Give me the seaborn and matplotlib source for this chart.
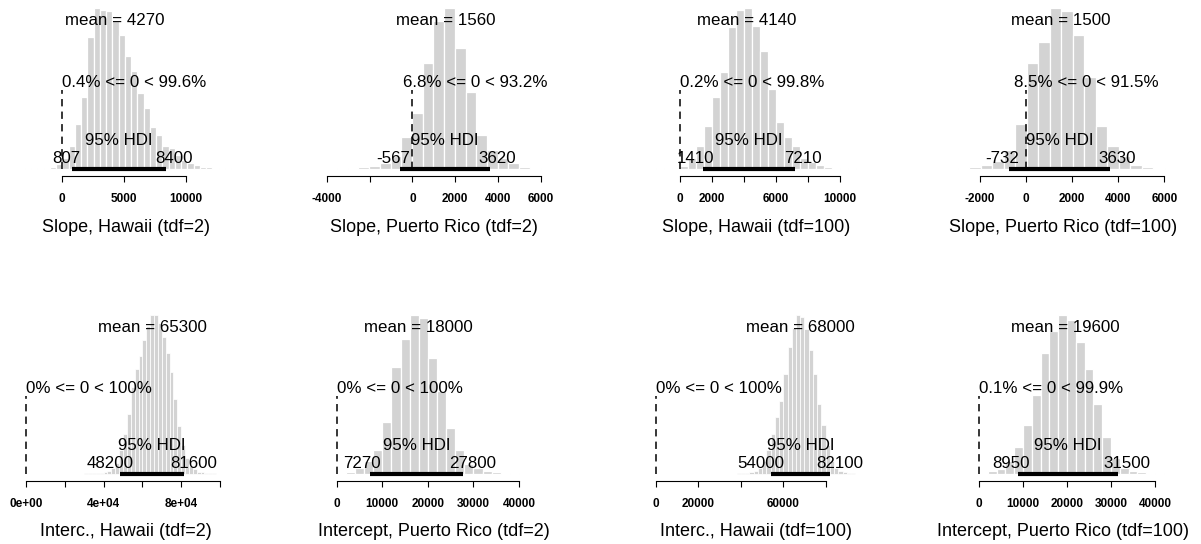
import numpy as np
import pandas as pd
import matplotlib
matplotlib.use("Agg")
import matplotlib.pyplot as plt
import seaborn as sns
from matplotlib.transforms import ScaledTranslation

# ---------------- data ----------------
titles = ["Slope, Hawaii (tdf=2)", "Slope, Puerto Rico (tdf=2)",
          "Slope, Hawaii (tdf=100)", "Slope, Puerto Rico (tdf=100)",
          "Interc., Hawaii (tdf=2)", "Intercept, Puerto Rico (tdf=2)",
          "Interc., Hawaii (tdf=100)", "Intercept, Puerto Rico (tdf=100)"]
means = ["4270", "1560", "4140", "1500", "65300", "18000", "68000", "19600"]
mean_vals = [4270, 1560, 4140, 1500, 65300, 18000, 68000, 19600]
hdi_low = [807, -567, 1410, -732, 48200, 7270, 54000, 8950]
hdi_high = [8400, 3620, 7210, 3630, 81600, 27800, 82100, 31500]
pct_below = [0.4, 6.8, 0.2, 8.5, 0, 0, 0, 0.1]
pct_below_txt = ["0.4", "6.8", "0.2", "8.5", "0", "0", "0", "0.1"]
pct_above_txt = ["99.6", "93.2", "99.8", "91.5", "100", "100", "100", "99.9"]
comp_val = 0

bin_start = [-3016, -4020, -1500, -2970, 28000, 0, 34000, -4000]
bin_width = [505, 500, 500, 500, 2000, 2000, 2000, 2000]

h1 = [0.004, 0.004, 0.006, 0.008, 0.015, 0.03, 0.07, 0.14, 0.28, 0.45, 0.82, 1.0,
      0.99, 0.98, 0.92, 0.83, 0.70, 0.61, 0.47, 0.38, 0.26, 0.21, 0.14, 0.13, 0.09,
      0.055, 0.035, 0.025, 0.015, 0.01, 0.006, 0.005, 0.004]
h2 = [0.003, 0.004, 0.006, 0.01, 0.02, 0.04, 0.08, 0.20, 0.35, 0.66, 0.92, 1.0,
      0.75, 0.48, 0.21, 0.12, 0.07, 0.035, 0.015, 0.008]
h3 = [0.004, 0.005, 0.008, 0.02, 0.07, 0.14, 0.27, 0.45, 0.60, 0.88, 0.99, 1.0,
      0.89, 0.73, 0.50, 0.29, 0.20, 0.14, 0.07, 0.045, 0.025, 0.012, 0.007, 0.005,
      0.004, 0.003]
h4 = [0.004, 0.01, 0.025, 0.05, 0.12, 0.28, 0.66, 0.79, 1.0, 0.98, 0.83, 0.57,
      0.27, 0.14, 0.08, 0.025, 0.01, 0.005]
h5 = [0.003, 0.004, 0.004, 0.005, 0.006, 0.008, 0.01, 0.02, 0.035, 0.07, 0.15,
      0.25, 0.38, 0.55, 0.66, 0.74, 0.84, 0.93, 1.0, 1.0, 0.95, 0.86, 0.76, 0.64,
      0.47, 0.30, 0.18, 0.10, 0.05, 0.03, 0.015, 0.01, 0.007, 0.005, 0.004, 0.003,
      0.003, 0.003]
h6 = [0.004, 0.015, 0.035, 0.08, 0.15, 0.33, 0.67, 0.85, 1.0, 0.98, 0.73, 0.52,
      0.29, 0.15, 0.06, 0.035, 0.02, 0.01, 0.006, 0.004, 0.003, 0.003]
h7 = [0.003, 0.003, 0.004, 0.004, 0.006, 0.01, 0.02, 0.04, 0.08, 0.15, 0.25, 0.36,
      0.46, 0.63, 0.80, 0.92, 1.0, 0.99, 0.91, 0.78, 0.63, 0.44, 0.31, 0.18, 0.08,
      0.04, 0.02, 0.01, 0.006, 0.004, 0.003]
h8 = [0.003, 0.004, 0.008, 0.02, 0.03, 0.08, 0.17, 0.31, 0.50, 0.76, 0.90, 1.0,
      0.97, 0.83, 0.66, 0.44, 0.23, 0.10, 0.04, 0.02, 0.01, 0.005, 0.004, 0.003]
heights = [h1, h2, h3, h4, h5, h6, h7, h8]

ticks = [[0, 5000, 10000],
         [-4000, -2000, 0, 2000, 4000, 6000],
         [0, 2000, 4000, 6000, 8000, 10000],
         [-2000, 0, 2000, 4000, 6000],
         [0, 20000, 40000, 60000, 80000, 100000],
         [0, 10000, 20000, 30000, 40000],
         [0, 20000, 40000, 60000, 80000],
         [0, 10000, 20000, 30000, 40000]]
tick_labels = [["0", "5000", "10000"],
               ["-4000", "", "0", "2000", "4000", "6000"],
               ["0", "2000", "", "6000", "", "10000"],
               ["-2000", "0", "2000", "4000", "6000"],
               ["0e+00", "", "4e+04", "", "8e+04", ""],
               ["0", "10000", "20000", "30000", "40000"],
               ["0", "20000", "", "60000", ""],
               ["0", "10000", "20000", "30000", "40000"]]

# ---------------- layout (pixels) ----------------
W, H = 1201, 544
col_centers = [126, 434, 756, 1063]
half_w = 116
rows = [dict(top=0, bottom=176, base=169, unit=161, title_y=232),
        dict(top=272, bottom=481, base=474, unit=159, title_y=536.5)]
tick_px = [(62.3, 186.0), (326.7, 541.0), (680.0, 840.0), (980.0, 1164.3),
           (26.0, 220.0), (336.7, 519.0), (656.0, 825.7), (979.0, 1155.0)]

BAR = "#d3d3d3"
sns.set_theme(style="ticks", rc={"text.color": "black", "axes.labelcolor": "black",
                                 "xtick.color": "black", "axes.edgecolor": "black"})
plt.rcParams["font.family"] = ["Liberation Sans", "DejaVu Sans"]

fig = plt.figure(figsize=(W / 100, H / 100), dpi=100)
shift_list = []

for i in range(8):
    r = rows[i // 4]
    cx = col_centers[i % 4]
    left, right = cx - half_w, cx + half_w
    ax = fig.add_axes([left / W, 1 - r["bottom"] / H, (right - left) / W,
                       (r["bottom"] - r["top"]) / H])
    ax.patch.set_alpha(0)

    n = len(heights[i])
    edges = bin_start[i] + bin_width[i] * np.arange(n + 1)
    centers = bin_start[i] + bin_width[i] * (np.arange(n) + 0.5)
    df = pd.DataFrame({"value": centers, "density": heights[i]})

    p0, p1 = tick_px[i]
    v0, v1 = ticks[i][0], ticks[i][-1]
    s = (p1 - p0) / (v1 - v0)
    xmin = v0 + (left - p0) / s
    xmax = v0 + (right - p0) / s
    bar_px = bin_width[i] * s
    lw = 0.9 if bar_px > 5 else 0.55

    sns.histplot(data=df, x="value", weights="density", bins=list(edges), ax=ax,
                 color=BAR, edgecolor="white", linewidth=lw, alpha=1)

    ax.set_xlim(xmin, xmax)
    ax.set_ylim(-(r["bottom"] - r["base"]) / r["unit"], (r["base"] - r["top"]) / r["unit"])
    ax.set_xlabel("")
    ax.set_ylabel("")
    ax.set_yticks([])
    for sp in ["top", "left", "right"]:
        ax.spines[sp].set_visible(False)
    ax.spines["bottom"].set_bounds(v0, v1)
    ax.spines["bottom"].set_linewidth(0.8)
    ax.set_xticks(ticks[i])
    ax.set_xticklabels(tick_labels[i], fontsize=8.5, fontweight="bold")
    ax.tick_params(axis="x", direction="out", length=4.4, width=0.8, pad=7.5,
                   bottom=True, colors="black")

    fs = 12.2
    ax.plot([hdi_low[i], hdi_high[i]], [0, 0], color="black", lw=3.0,
            solid_capstyle="butt", zorder=5)
    ax.plot([comp_val, comp_val], [0, 0.49], color="black", lw=1.1,
            linestyle=(0, (4.8, 3.4)), zorder=5)
    ax.text(mean_vals[i], 0.895, f"mean = {means[i]}", ha="center", va="baseline",
            fontsize=fs)
    t = ax.text(comp_val, 0.51, f"{pct_below_txt[i]}% <= 0 < {pct_above_txt[i]}%",
                ha="left", va="baseline", fontsize=fs)
    shift_list.append((ax, t, pct_below[i] / 100.0))
    ax.text((hdi_low[i] + hdi_high[i]) / 2, 0.15, "95% HDI", ha="center",
            va="baseline", fontsize=fs)
    t1 = ax.text(hdi_low[i], 0.036, f"{hdi_low[i]}", ha="left", va="baseline", fontsize=fs)
    t2 = ax.text(hdi_high[i], 0.036, f"{hdi_high[i]}", ha="left", va="baseline", fontsize=fs)
    shift_list.append((ax, t1, 0.7))
    shift_list.append((ax, t2, 0.3))

    fig.text(cx / W, 1 - r["title_y"] / H, titles[i], ha="center", va="baseline",
             fontsize=13)

fig.canvas.draw()
renderer = fig.canvas.get_renderer()
for ax, t, frac in shift_list:
    w = t.get_window_extent(renderer=renderer).width
    t.set_transform(ax.transData + ScaledTranslation(-frac * w / fig.dpi, 0,
                                                     fig.dpi_scale_trans))

fig.savefig("out.png", dpi=100, facecolor="white")
